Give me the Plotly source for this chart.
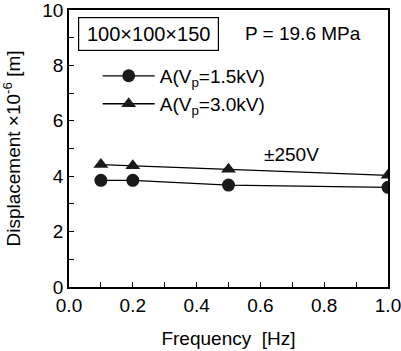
import plotly.graph_objects as go

freq = [0.1, 0.2, 0.5, 1.0]
disp_15kv = [3.85, 3.85, 3.68, 3.6]
disp_30kv = [4.42, 4.38, 4.25, 4.03]
x_ticks = [0.0, 0.2, 0.4, 0.6, 0.8, 1.0]
y_ticks = [0, 2, 4, 6, 8, 10]

FONT = "Liberation Sans, Arial, sans-serif"
FS = 19

fig = go.Figure()
fig.add_trace(go.Scatter(
    x=freq, y=disp_15kv, mode="lines+markers",
    name="A(V<sub>p</sub>=1.5kV)", legend="legend",
    line=dict(color="black", width=1.3),
    marker=dict(symbol="circle", size=13, color="#1a1a1a"),
))
fig.add_trace(go.Scatter(
    x=freq, y=disp_30kv, mode="lines+markers",
    name="A(V<sub>p</sub>=3.0kV)", legend="legend2",
    line=dict(color="black", width=1.3),
    marker=dict(symbol="triangle-up", size=13, color="#1a1a1a"),
))

axis_common = dict(
    showline=True, linecolor="black", linewidth=1.6, mirror=True,
    ticks="inside", ticklen=5, tickcolor="black", tickwidth=1,
    showgrid=False, zeroline=False, automargin=False,
    ticklabeloverflow="allow",
    tickfont=dict(family=FONT, size=FS, color="black"),
)

fig.update_xaxes(
    range=[0, 1.0], tickvals=x_ticks,
    ticktext=[f"{v:.1f}" for v in x_ticks],
    minor=dict(dtick=0.1, ticks="inside", ticklen=5, tickcolor="black"),
    title=dict(text="Frequency  [Hz]", font=dict(family=FONT, size=FS, color="black"), standoff=17),
    **axis_common,
)
fig.update_yaxes(
    range=[0, 10], tickvals=y_ticks,
    minor=dict(dtick=1, ticks="inside", ticklen=5, tickcolor="black"),
    title=dict(text="Displacement ×10<sup>-6</sup> [m]", font=dict(family=FONT, size=FS, color="black"), standoff=19),
    **axis_common,
)

fig.add_annotation(
    x=0.028, y=0.975, xref="paper", yref="paper", xanchor="left", yanchor="top",
    text="100×100×150", showarrow=False,
    font=dict(family=FONT, size=20, color="black"),
    width=131, height=24, align="center",
    bordercolor="black", borderwidth=1.2, borderpad=4, bgcolor="white",
)
fig.add_annotation(
    x=0.545, y=0.915, xref="paper", yref="paper", xanchor="left", yanchor="middle",
    text="P = 19.6 MPa", showarrow=False,
    font=dict(family=FONT, size=FS, color="black"),
)
fig.add_annotation(
    x=0.696, y=0.48, xref="paper", yref="paper", xanchor="center", yanchor="middle",
    text="±250V", showarrow=False,
    font=dict(family=FONT, size=FS, color="black"),
)

leg_common = dict(
    xanchor="left", yanchor="middle",
    bgcolor="rgba(0,0,0,0)", borderwidth=0,
    font=dict(family=FONT, size=FS, color="black"),
    itemwidth=52,
)

fig.update_layout(
    width=401, height=351,
    margin=dict(l=69, r=13, t=10, b=64),
    paper_bgcolor="white", plot_bgcolor="white",
    font=dict(family=FONT, color="black"),
    showlegend=True,
    legend=dict(x=0.09, y=0.762, **leg_common),
    legend2=dict(x=0.09, y=0.661, **leg_common),
)

fig.write_html(
    "out.html",
    config={"displayModeBar": False},
    post_script="document.body.style.margin='0';document.body.style.overflow='hidden';",
)
